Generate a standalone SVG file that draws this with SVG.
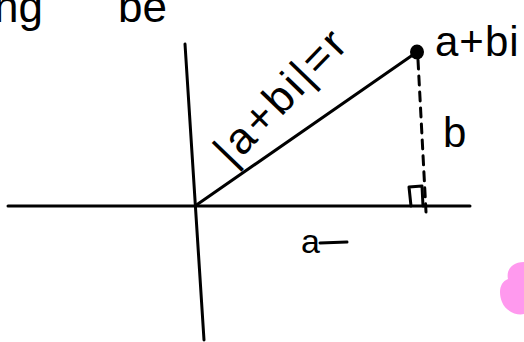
<svg xmlns="http://www.w3.org/2000/svg" width="524" height="342" viewBox="0 0 524 342">
<style>
.ln{stroke:#000;stroke-width:3;fill:none;stroke-linecap:round;stroke-linejoin:round}
.t{font-family:"Liberation Sans",Arial,sans-serif;fill:#000}
</style>
<rect width="524" height="342" fill="#fff"/>
<g id="top-text">
<text class="t" x="-6" y="22" font-size="44">ng</text>
<text class="t" x="118" y="22" font-size="44">be</text>
</g>
<g id="axes">
<path class="ln" d="M8 206 L470 206"/>
<path class="ln" d="M185 44 L204 340"/>
</g>
<g id="connectors">
<path class="ln" d="M195 206 L417 52"/>
<path class="ln" d="M418 60 L426 212" stroke-dasharray="9 7"/>
<path class="ln" d="M411 206 L409 187 L422 186 L423 206"/>
</g>
<g id="point">
<ellipse cx="417" cy="52" rx="7" ry="7.5" fill="#000"/>
<text class="t" x="435" y="56" font-size="42" letter-spacing="1">a+bi</text>
</g>
<g id="label-r">
<text class="t" font-size="44" letter-spacing="3" transform="translate(232 168) rotate(-46)">|a+bi|=r</text>
</g>
<g id="label-b">
<text class="t" x="443" y="147" font-size="42">b</text>
</g>
<g id="label-a">
<text class="t" x="301" y="253" font-size="34">a</text>
<path class="ln" d="M320 243 L347 242"/>
</g>
<g id="blob">
<path d="M524 262 C512 262 506 270 508 279 C500 282 498 292 502 302 C506 312 518 316 524 314 Z" fill="#ff99ee"/>
</g>
</svg>
